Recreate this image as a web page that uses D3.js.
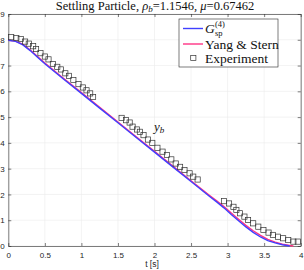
<!DOCTYPE html>
<html>
<head>
<meta charset="utf-8">
<script src="https://cdn.jsdelivr.net/npm/d3@7"></script>
<style>
  body { margin: 0; background: #fff; }
  svg { display: block; }
</style>
</head>
<body>
<div id="chart"></div>
<script>
// tick values
let xTicks = [0, 0.5, 1, 1.5, 2, 2.5, 3, 3.5, 4]
let yTicks = [0, 1, 2, 3, 4, 5, 6, 7, 8, 9]

// G_sp^(4) model curve
let gspT = [0, 0.1, 0.2, 0.3, 0.4, 0.5, 0.75, 1, 1.25, 1.5, 1.75, 2, 2.25, 2.5, 2.75, 2.85, 2.95, 3.05, 3.15, 3.25, 3.35, 3.45, 3.55, 3.65, 3.75, 3.85]
let gspY = [7.98, 7.94, 7.80, 7.58, 7.32, 7.07, 6.49, 5.92, 5.35, 4.78, 4.21, 3.64, 3.07, 2.50, 1.93, 1.71, 1.48, 1.22, 0.98, 0.74, 0.53, 0.35, 0.21, 0.12, 0.05, 0.0]

// Yang & Stern curve
let ysT = [0, 0.1, 0.2, 0.3, 0.4, 0.5, 0.75, 1, 1.25, 1.5, 1.75, 2, 2.25, 2.5, 2.75, 2.85, 2.95, 3.05, 3.15, 3.25, 3.35, 3.45, 3.55, 3.65, 3.75, 3.85, 3.9]
let ysY = [7.98, 7.95, 7.82, 7.60, 7.35, 7.10, 6.52, 5.95, 5.38, 4.81, 4.24, 3.67, 3.10, 2.53, 1.97, 1.75, 1.53, 1.28, 1.04, 0.80, 0.59, 0.41, 0.26, 0.15, 0.07, 0.02, 0.0]

// experiment markers
let expT = [0.04, 0.11, 0.17, 0.23, 0.28, 0.34, 0.38, 0.44, 0.50, 0.55, 0.61, 0.67, 0.72, 0.78, 0.83, 0.89, 0.96, 1.02, 1.07, 1.12, 1.16,
  1.55, 1.61, 1.66, 1.70, 1.76, 1.80, 1.85, 1.91, 1.97, 2.04, 2.11, 2.17, 2.23, 2.29, 2.35, 2.41, 2.48, 2.53, 2.59,
  2.95, 3.02, 3.08, 3.12, 3.17, 3.23, 3.28, 3.35, 3.42, 3.49, 3.56, 3.62, 3.69, 3.76, 3.83, 3.90, 3.96]
let expY = [8.10, 8.07, 8.03, 7.93, 7.85, 7.75, 7.64, 7.48, 7.35, 7.24, 7.06, 6.95, 6.85, 6.70, 6.60, 6.44, 6.28, 6.15, 6.04, 5.92, 5.78,
  4.97, 4.88, 4.79, 4.63, 4.52, 4.43, 4.30, 4.13, 4.00, 3.81, 3.66, 3.53, 3.36, 3.20, 3.07, 2.95, 2.82, 2.69, 2.58,
  1.74, 1.65, 1.52, 1.40, 1.27, 1.14, 1.01, 0.88, 0.75, 0.62, 0.52, 0.43, 0.36, 0.30, 0.23, 0.17, 0.17]

let width = 304, height = 270
let plotLeft = 8.3, plotRight = 300.7, plotTop = 14, plotBottom = 246
let axisColor = '#262626'

let svg = d3.select('#chart').append('svg')
  .attr('width', width)
  .attr('height', height)

let x = d3.scaleLinear().domain([0, 4]).range([plotLeft, plotRight])
let y = d3.scaleLinear().domain([0, 9]).range([plotBottom, plotTop])

// grid
svg.append('g').selectAll('line').data(xTicks).join('line')
  .attr('x1', d => x(d)).attr('x2', d => x(d))
  .attr('y1', plotTop).attr('y2', plotBottom)
  .attr('stroke', '#ebebeb').attr('stroke-width', 0.6)
svg.append('g').selectAll('line').data(yTicks).join('line')
  .attr('x1', plotLeft).attr('x2', plotRight)
  .attr('y1', d => y(d)).attr('y2', d => y(d))
  .attr('stroke', '#ebebeb').attr('stroke-width', 0.6)

// axes, ticks pointing inward
let styleAxis = g => {
  g.selectAll('.domain').attr('stroke', axisColor).attr('stroke-width', 0.6)
  g.selectAll('.tick line').attr('stroke', axisColor).attr('stroke-width', 0.6)
  g.selectAll('.tick text').attr('fill', axisColor)
    .style('font-family', '"Liberation Sans", Arial, sans-serif').style('font-size', '8px')
}
svg.append('g').attr('transform', `translate(0,${plotBottom})`)
  .call(d3.axisBottom(x).tickValues(xTicks).tickFormat(d3.format('')).tickSize(-3).tickSizeOuter(0).tickPadding(6))
  .call(styleAxis)
svg.append('g').attr('transform', `translate(${plotLeft},0)`)
  .call(d3.axisLeft(y).tickValues(yTicks).tickFormat(d3.format('')).tickSize(-3).tickSizeOuter(0).tickPadding(3.5))
  .call(styleAxis)
svg.append('g').attr('transform', `translate(0,${plotTop})`)
  .call(d3.axisTop(x).tickValues(xTicks).tickFormat('').tickSize(-3).tickSizeOuter(0))
  .call(styleAxis)
svg.append('g').attr('transform', `translate(${plotRight},0)`)
  .call(d3.axisRight(y).tickValues(yTicks).tickFormat('').tickSize(-3).tickSizeOuter(0))
  .call(styleAxis)

// curves
let line = d3.line().x(d => x(d[0])).y(d => y(d[1]))
svg.append('path').datum(d3.zip(ysT, ysY))
  .attr('d', line).attr('fill', 'none')
  .attr('stroke', '#ff3385').attr('stroke-width', 1.4)
svg.append('path').datum(d3.zip(gspT, gspY))
  .attr('d', line).attr('fill', 'none')
  .attr('stroke', '#4040ff').attr('stroke-width', 1.4)

// experiment squares
svg.append('g').selectAll('rect').data(d3.zip(expT, expY)).join('rect')
  .attr('x', d => x(d[0]) - 2.6).attr('y', d => y(d[1]) - 2.6)
  .attr('width', 5.2).attr('height', 5.2)
  .attr('fill', 'none').attr('stroke', '#333').attr('stroke-width', 0.7)

let serif = '"Liberation Serif", "Times New Roman", serif'

// title
let title = svg.append('text').attr('x', 155).attr('y', 10)
  .attr('text-anchor', 'middle').attr('fill', '#111')
  .style('font-family', serif).style('font-size', '12.5px')
title.append('tspan').text('Settling Particle, ')
title.append('tspan').style('font-style', 'italic').text('ρ')
title.append('tspan').style('font-style', 'italic').style('font-size', '9px').attr('dy', 2).text('b')
title.append('tspan').attr('dy', -2).text('=1.1546, ')
title.append('tspan').style('font-style', 'italic').text('μ')
title.append('tspan').text('=0.67462')

// x label
svg.append('text').attr('x', 152).attr('y', 267)
  .attr('text-anchor', 'middle').attr('fill', axisColor)
  .style('font-family', '"Liberation Sans", Arial, sans-serif').style('font-size', '8.5px')
  .text('t [s]')

// y_b annotation
let yb = svg.append('text').attr('x', 154).attr('y', 131)
  .attr('fill', '#111').style('font-family', serif).style('font-size', '13px')
yb.append('tspan').style('font-style', 'italic').text('y')
yb.append('tspan').style('font-style', 'italic').style('font-size', '9px').attr('dy', 2).text('b')

// legend
let legend = svg.append('g')
legend.append('rect').attr('x', 179).attr('y', 19).attr('width', 99).attr('height', 48)
  .attr('fill', '#fff').attr('stroke', axisColor).attr('stroke-width', 0.6)
legend.append('line').attr('x1', 183).attr('x2', 203).attr('y1', 28.5).attr('y2', 28.5)
  .attr('stroke', '#4040ff').attr('stroke-width', 1.4)
legend.append('line').attr('x1', 183).attr('x2', 203).attr('y1', 44).attr('y2', 44)
  .attr('stroke', '#ff3385').attr('stroke-width', 1.4)
legend.append('rect').attr('x', 193.3 - 2.6).attr('y', 58 - 2.6).attr('width', 5.2).attr('height', 5.2)
  .attr('fill', 'none').attr('stroke', '#333').attr('stroke-width', 0.7)

let legendFont = '13.5px'
legend.append('text').attr('x', 205).attr('y', 33)
  .attr('fill', '#111').style('font-family', serif).style('font-size', legendFont)
  .style('font-style', 'italic').text('G')
legend.append('text').attr('x', 215).attr('y', 35.5)
  .attr('fill', '#111').style('font-family', serif).style('font-size', '8.5px')
  .text('sp')
legend.append('text').attr('x', 215).attr('y', 26.5)
  .attr('fill', '#111').style('font-family', serif).style('font-size', '8.5px')
  .text('(4)')
legend.append('text').attr('x', 205).attr('y', 48.5)
  .attr('fill', '#111').style('font-family', serif).style('font-size', legendFont)
  .text('Yang & Stern')
legend.append('text').attr('x', 205).attr('y', 62.5)
  .attr('fill', '#111').style('font-family', serif).style('font-size', legendFont)
  .text('Experiment')
</script>
</body>
</html>
